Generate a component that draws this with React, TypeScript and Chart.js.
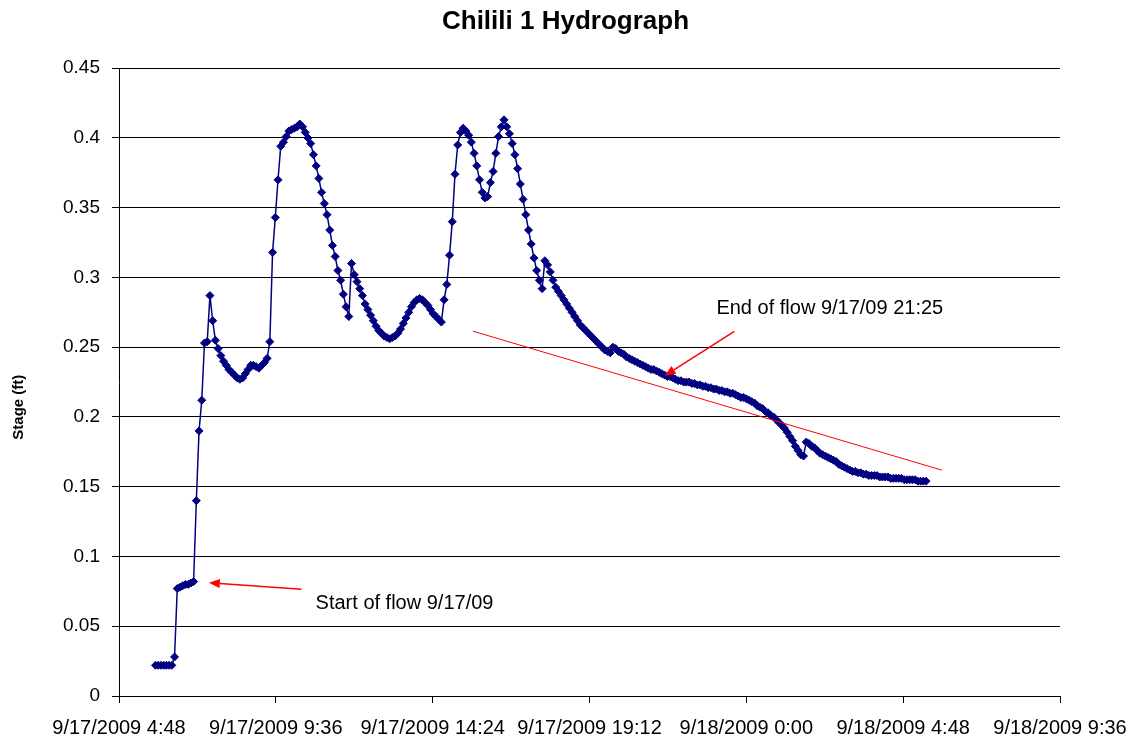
import React, { useEffect, useRef } from "react";
import { Chart, registerables } from "chart.js";

Chart.register(...registerables);

// ---------------- data ----------------
const TITLE = "Chilili 1 Hydrograph";
const Y_TITLE = "Stage (ft)";
const FONT = '"Liberation Sans", Arial, Helvetica, sans-serif';

// time axis in minutes since 9/17/2009 0:00
const X_MIN = 288; // 9/17/2009 4:48
const X_MAX = 2016; // 9/18/2009 9:36
const X_STEP = 288; // 4 h 48 min
const Y_MIN = 0;
const Y_MAX = 0.45;
const Y_STEP = 0.05;

// logger: first reading 9/17/2009 5:55, one reading every 5 minutes
const START_MIN = 355;
const INTERVAL_MIN = 5;

const STAGE_FT = [
  0.022, 0.022, 0.022, 0.022, 0.022, 0.022, 0.022, 0.028,
  0.077, 0.078, 0.079, 0.080, 0.080, 0.081, 0.082,
  0.140, 0.190, 0.212, 0.253, 0.254, 0.287, 0.269, 0.255, 0.249, 0.244,
  0.240, 0.237, 0.234, 0.232, 0.230, 0.228, 0.227, 0.228, 0.231, 0.234,
  0.237, 0.237, 0.236, 0.235, 0.237, 0.239, 0.242,
  0.254, 0.318, 0.343, 0.370, 0.394, 0.397, 0.401, 0.405, 0.406, 0.407, 0.408,
  0.410,
  0.408, 0.404, 0.400, 0.396, 0.388, 0.380, 0.371, 0.361, 0.353, 0.345,
  0.334, 0.323, 0.315, 0.305, 0.298, 0.288, 0.279, 0.272,
  0.310, 0.302, 0.297, 0.292,
  0.287, 0.281, 0.277, 0.273, 0.269, 0.265, 0.262, 0.260, 0.258, 0.257,
  0.256, 0.257, 0.258, 0.260, 0.263, 0.267, 0.271, 0.275, 0.279, 0.282,
  0.284, 0.285, 0.284, 0.282, 0.280, 0.277, 0.274, 0.272, 0.270, 0.268,
  0.284, 0.295, 0.316, 0.340, 0.374, 0.395, 0.404, 0.407, 0.405, 0.402,
  0.397, 0.389, 0.380, 0.370, 0.361, 0.357, 0.358, 0.368, 0.376, 0.389,
  0.401, 0.408,
  0.413, 0.408, 0.403, 0.396, 0.388, 0.378, 0.367, 0.356, 0.345, 0.334,
  0.324, 0.314, 0.305, 0.298, 0.292,
  0.312, 0.309, 0.304, 0.298, 0.293, 0.290, 0.287, 0.284, 0.281, 0.278,
  0.275, 0.272, 0.269, 0.266, 0.264, 0.262, 0.260, 0.258, 0.256, 0.254,
  0.252, 0.250, 0.248, 0.247, 0.246,
  0.250, 0.249, 0.247,
  0.246, 0.245, 0.243, 0.242, 0.241, 0.240, 0.239, 0.238, 0.237, 0.236,
  0.235, 0.234, 0.234, 0.233, 0.232, 0.231, 0.230, 0.229, 0.229, 0.228,
  0.227, 0.226, 0.226, 0.225, 0.225, 0.225, 0.224, 0.224, 0.223, 0.223,
  0.222, 0.222, 0.221, 0.221, 0.220, 0.220, 0.219, 0.219, 0.218, 0.218,
  0.217, 0.217, 0.216, 0.215, 0.214, 0.214, 0.213, 0.212, 0.211, 0.210,
  0.208, 0.207, 0.206, 0.204, 0.203, 0.201, 0.200, 0.198, 0.196, 0.194,
  0.192, 0.189, 0.186, 0.183, 0.179, 0.176, 0.173,
  0.172,
  0.182, 0.181, 0.179, 0.178, 0.176, 0.174, 0.173, 0.172, 0.171, 0.170,
  0.169, 0.168, 0.166, 0.165, 0.164, 0.163, 0.162, 0.161, 0.161, 0.160,
  0.160, 0.159, 0.159, 0.158, 0.158, 0.158, 0.158, 0.157, 0.157, 0.157,
  0.157, 0.156, 0.156, 0.156, 0.156, 0.156, 0.155, 0.155, 0.155, 0.155,
  0.155, 0.154, 0.154, 0.154, 0.154,
];

// annotations (data coordinates: minutes since 9/17/2009 0:00, stage ft)
const START_LABEL = "Start of flow 9/17/09";
const START_LABEL_AT = { x: 649, y: 0.066 };
const START_ARROW = { from: { x: 623, y: 0.0765 }, to: { x: 453, y: 0.0812 } };
const END_LABEL = "End of flow 9/17/09 21:25";
const END_LABEL_AT = { x: 1385, y: 0.278 };
const END_ARROW = { from: { x: 1418, y: 0.2613 }, to: { x: 1290, y: 0.2295 } };
const TREND_LINE = { from: { x: 938, y: 0.2615 }, to: { x: 1799, y: 0.1619 } };
// y-axis title centre (stage value it is centred on)
const Y_TITLE_AT = 0.207;

const NAVY = "#000080";
const RED = "#ff0000";

function formatTime(v: number): string {
  const m = Math.round(v);
  const day = 17 + Math.floor(m / 1440);
  const r = m % 1440;
  const h = Math.floor(r / 60);
  const mm = r % 60;
  return `9/${day}/2009 ${h}:${String(mm).padStart(2, "0")}`;
}

function formatStage(v: number): string {
  return String(Number(Number(v).toFixed(2)));
}

const annotationPlugin = {
  id: "hydroAnnotations",
  afterDraw(chart: any) {
    const { ctx } = chart;
    const ys = chart.scales.y;
    ctx.save();
    ctx.translate(19, ys.getPixelForValue(Y_TITLE_AT));
    ctx.rotate(-Math.PI / 2);
    ctx.fillStyle = "#000";
    ctx.font = `bold 15px ${FONT}`;
    ctx.textAlign = "center";
    ctx.textBaseline = "middle";
    ctx.fillText(Y_TITLE, 0, 0);
    ctx.restore();
  },
  afterDatasetsDraw(chart: any) {
    const { ctx, scales } = chart;
    const xs = scales.x;
    const ys = scales.y;
    const px = (p: { x: number; y: number }) => [xs.getPixelForValue(p.x), ys.getPixelForValue(p.y)];

    ctx.save();
    const [t1x, t1y] = px(TREND_LINE.from);
    const [t2x, t2y] = px(TREND_LINE.to);
    ctx.strokeStyle = RED;
    ctx.lineWidth = 1;
    ctx.beginPath();
    ctx.moveTo(t1x, t1y);
    ctx.lineTo(t2x, t2y);
    ctx.stroke();

    const drawArrow = (a: any) => {
      const [fx, fy] = px(a.from);
      const [tx, ty] = px(a.to);
      const ang = Math.atan2(ty - fy, tx - fx);
      const headLen = 11;
      const headHalf = 4.5;
      const bx = tx - Math.cos(ang) * headLen;
      const by = ty - Math.sin(ang) * headLen;
      ctx.strokeStyle = RED;
      ctx.lineWidth = 1.5;
      ctx.beginPath();
      ctx.moveTo(fx, fy);
      ctx.lineTo(bx, by);
      ctx.stroke();
      ctx.fillStyle = RED;
      ctx.beginPath();
      ctx.moveTo(tx, ty);
      ctx.lineTo(bx - Math.sin(ang) * headHalf, by + Math.cos(ang) * headHalf);
      ctx.lineTo(bx + Math.sin(ang) * headHalf, by - Math.cos(ang) * headHalf);
      ctx.closePath();
      ctx.fill();
    };
    drawArrow(START_ARROW);
    drawArrow(END_ARROW);

    ctx.fillStyle = "#000";
    ctx.font = `20px ${FONT}`;
    ctx.textAlign = "left";
    ctx.textBaseline = "middle";
    const [sx, sy] = px(START_LABEL_AT);
    ctx.fillText(START_LABEL, sx, sy);
    const [ex, ey] = px(END_LABEL_AT);
    ctx.fillText(END_LABEL, ex, ey);
    ctx.restore();
  },
};

export default function App() {
  const canvasRef = useRef<HTMLCanvasElement | null>(null);

  useEffect(() => {
    document.body.style.margin = "0";
    document.body.style.background = "#ffffff";
    const canvas = canvasRef.current;
    if (!canvas) return;

    const points = STAGE_FT.map((v, i) => ({ x: START_MIN + i * INTERVAL_MIN, y: v }));

    const chart = new Chart(canvas, {
      type: "line",
      data: {
        datasets: [
          {
            label: "Stage",
            data: points,
            borderColor: NAVY,
            backgroundColor: NAVY,
            borderWidth: 1.5,
            pointStyle: "rectRot",
            pointRadius: 4,
            pointBorderWidth: 1,
            pointBackgroundColor: NAVY,
            pointBorderColor: NAVY,
            tension: 0,
            fill: false,
            yAxisID: "y",
            xAxisID: "x",
          },
        ],
      },
      options: {
        responsive: false,
        animation: false,
        devicePixelRatio: 1,
        layout: { padding: 0 },
        plugins: {
          legend: { display: false },
          tooltip: { enabled: false },
          title: {
            display: true,
            text: TITLE,
            color: "#000",
            font: { family: FONT, size: 26, weight: "bold" },
            padding: { top: 6, bottom: 31 },
          },
        },
        scales: {
          x: {
            type: "linear",
            min: X_MIN,
            max: X_MAX,
            afterFit: (s: any) => {
              s.height = 42;
              s.paddingLeft = 0;
              s.paddingRight = 0;
            },
            ticks: {
              stepSize: X_STEP,
              callback: (v: any) => formatTime(Number(v)),
              color: "#000",
              font: { family: FONT, size: 20 },
              padding: 13,
              maxRotation: 0,
              minRotation: 0,
              autoSkip: false,
            },
            grid: { drawOnChartArea: false, drawTicks: true, tickLength: 7, color: "#000" },
            border: { color: "#000", width: 1 },
          },
          y: {
            type: "linear",
            position: "left",
            min: Y_MIN,
            max: Y_MAX,
            afterFit: (s: any) => {
              s.width = 119;
            },
            ticks: {
              stepSize: Y_STEP,
              callback: (v: any) => formatStage(Number(v)),
              color: "#000",
              font: { family: FONT, size: 19 },
              padding: 12,
            },
            grid: { color: "#000", lineWidth: 1, tickLength: 7 },
            border: { color: "#000", width: 1 },
          },
          rightSpace: {
            type: "linear",
            position: "right",
            display: true,
            afterFit: (s: any) => {
              s.width = 71;
            },
            ticks: { display: false },
            grid: { display: false, drawTicks: false, drawOnChartArea: false },
            border: { display: false },
          },
        },
      },
      plugins: [annotationPlugin],
    } as any);

    return () => {
      chart.destroy();
    };
  }, []);

  return (
    <div style={{ width: 1131, height: 738 }}>
      <canvas ref={canvasRef} width={1131} height={738} style={{ display: "block" }} />
    </div>
  );
}
